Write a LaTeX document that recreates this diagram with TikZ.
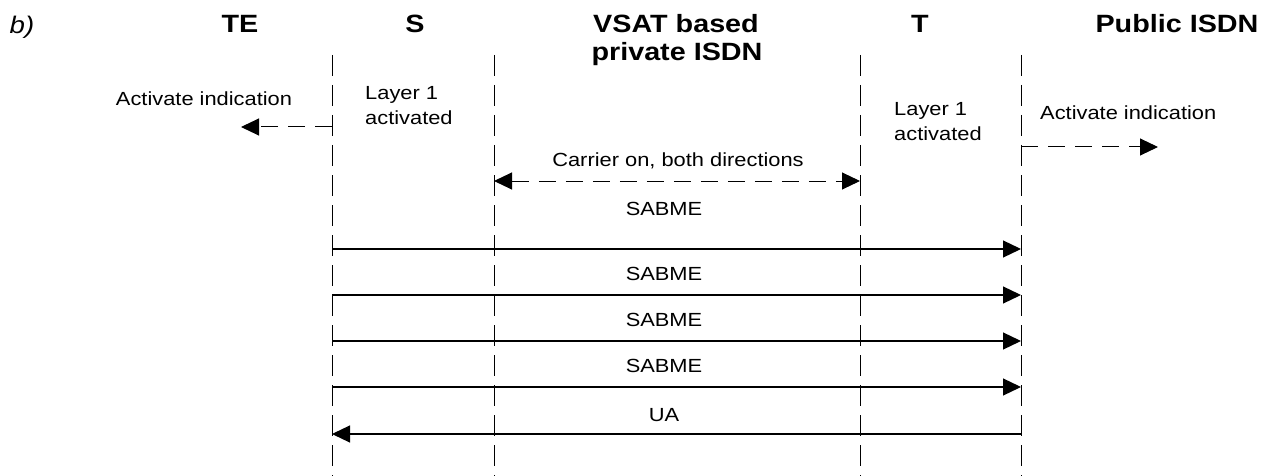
\documentclass[tikz,border=0pt]{standalone}
\usepackage{fontspec}
\setmainfont{Liberation Sans}[FakeStretch=1.15]
\usetikzlibrary{arrows.meta,positioning}

\tikzset{
  lifeline/.style={dash pattern=on 21pt off 9pt, line width=0.9pt},
  msg/.style={-{Triangle[length=18pt,width=17pt]}, line width=1.2pt},
  ind/.style={msg, line width=1pt, dash pattern=on 17pt off 10pt},
  lbl/.style={font=\fontsize{19}{21}\selectfont, inner sep=0pt, anchor=base},
  hdr/.style={font=\fontsize{25}{27}\selectfont\bfseries, inner sep=0pt, anchor=base},
}

\begin{document}
\begin{tikzpicture}[x=1pt,y=-1pt]
  \useasboundingbox (0,0) rectangle (1269,476);

  % headers
  \node[font=\fontsize{24}{26}\selectfont\itshape, inner sep=0pt, anchor=base] (tag) at (22,34) {b)};
  \node[hdr] (te) at (240,33) {TE};
  \node[hdr] (s) at (415,33) {S};
  \node[hdr] (vsat) at (676,33) {VSAT based};
  \node[hdr] (priv) at (677,61) {private ISDN};
  \node[hdr] (t) at (920,33) {T};
  \node[hdr] (pub) at (1177,33) {Public ISDN};

  % reference lines
  \foreach \name/\x in {la/332, lb/494, lc/860, ld/1021} {
    \coordinate (\name top) at (\x,55);
    \coordinate (\name bot) at (\x,476);
    \draw[lifeline] (\name top) -- (\name bot);
  }

  % activation
  \node[lbl] (act1) at (204,106) {Activate indication};
  \node[lbl, anchor=base west] (lay1) at (365,100) {Layer 1};
  \node[lbl, anchor=base west] (lay1b) at (365,125) {activated};
  \coordinate (a0) at (332,127);
  \coordinate (a0end) at (241,127);
  \draw[ind] (a0) -- (a0end);

  \node[lbl, anchor=base west] (lay2) at (894,116) {Layer 1};
  \node[lbl, anchor=base west] (lay2b) at (894,141) {activated};
  \node[lbl, anchor=base west] (act2) at (1040,120) {Activate indication};
  \coordinate (d0) at (1021,147);
  \coordinate (d0end) at (1158,147);
  \draw[ind] (d0) -- (d0end);

  \node[lbl] (car) at (678,166) {Carrier on, both directions};
  \coordinate (b0) at (494,181);
  \coordinate (c0) at (860,181);
  \draw[ind, {Triangle[length=18pt,width=17pt]}-{Triangle[length=18pt,width=17pt]}] (b0) -- (c0);

  % messages
  \foreach \i/\y/\ly in {1/249/215, 2/295/280, 3/341/326, 4/387/372} {
    \node[lbl] (sab\i) at (664,\ly) {SABME};
    \coordinate (a\i) at (332,\y);
    \coordinate (d\i) at (1021,\y);
    \draw[msg] (a\i) -- (d\i);
  }
  \node[lbl] (ua) at (664,421) {UA};
  \coordinate (a5) at (332,434);
  \coordinate (d5) at (1021,434);
  \draw[msg] (d5) -- (a5);
\end{tikzpicture}
\end{document}
